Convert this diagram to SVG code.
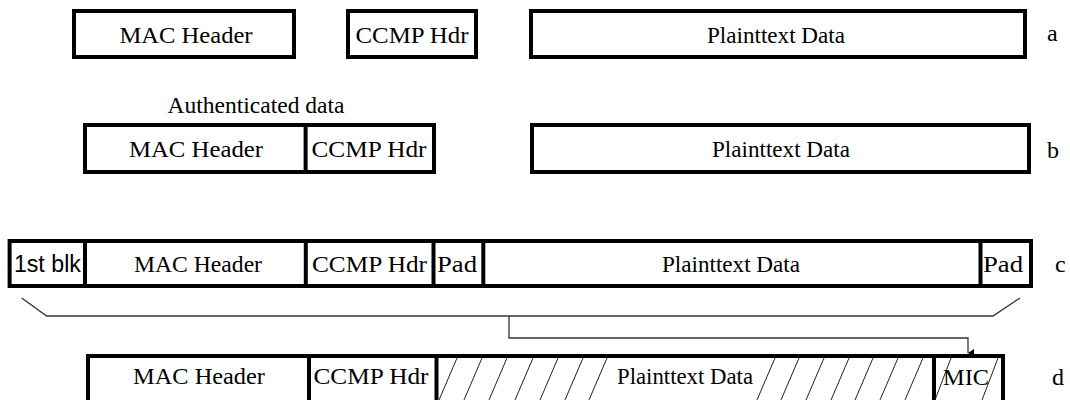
<svg xmlns="http://www.w3.org/2000/svg" width="1070" height="400" viewBox="0 0 1070 400">
<style>
.box{fill:#fff;stroke:#000;stroke-width:4}
.div{stroke:#000;stroke-width:4}
.t{font-family:'Liberation Serif','DejaVu Serif','Noto Serif',serif;font-size:24px;fill:#000;text-anchor:middle}
.s{font-family:'Liberation Sans',Arial,sans-serif;font-size:23px;fill:#000;text-anchor:middle}
.lbl{font-family:'Liberation Serif','DejaVu Serif','Noto Serif',serif;font-size:24px;fill:#000}
.hatch{stroke:#222;stroke-width:1}
.conn{fill:none;stroke:#333;stroke-width:1.3}
</style>
<defs>
<marker id="arr" markerWidth="8" markerHeight="8" refX="4" refY="6" orient="auto" markerUnits="userSpaceOnUse" viewBox="0 0 8 8">
<path d="M0,0 L8,0 L4,6 Z" fill="#000"/>
</marker>
</defs>
<rect width="1070" height="400" fill="#fff"/>

<g id="row-a">
<g id="a-mac"><rect class="box" x="74" y="11" width="220" height="46"/><text class="t" x="186" y="43" textLength="133" lengthAdjust="spacingAndGlyphs">MAC Header</text></g>
<g id="a-ccmp"><rect class="box" x="348" y="11" width="128" height="46"/><text class="t" x="412" y="43" textLength="113" lengthAdjust="spacingAndGlyphs">CCMP Hdr</text></g>
<g id="a-plain"><rect class="box" x="531" y="11" width="494" height="46"/><text class="t" x="776" y="43" textLength="138" lengthAdjust="spacingAndGlyphs">Plainttext Data</text></g>
<text class="lbl" x="1047" y="41">a</text>
</g>

<g id="row-b">
<text class="t" x="256" y="113" textLength="177" lengthAdjust="spacingAndGlyphs">Authenticated data</text>
<g id="b-auth"><rect class="box" x="85" y="125" width="349" height="47"/><line class="div" x1="305.6" y1="125" x2="305.6" y2="172"/>
<text class="t" x="196" y="157" textLength="134" lengthAdjust="spacingAndGlyphs">MAC Header</text><text class="t" x="369" y="157" textLength="115" lengthAdjust="spacingAndGlyphs">CCMP Hdr</text></g>
<g id="b-plain"><rect class="box" x="532" y="125" width="497" height="47"/><text class="t" x="781" y="157" textLength="138" lengthAdjust="spacingAndGlyphs">Plainttext Data</text></g>
<text class="lbl" x="1047" y="158">b</text>
</g>

<g id="row-c">
<rect class="box" x="9.6" y="241" width="1021.4" height="45"/>
<line class="div" x1="85" y1="241" x2="85" y2="286"/>
<line class="div" x1="305.8" y1="241" x2="305.8" y2="286"/>
<line class="div" x1="433.5" y1="241" x2="433.5" y2="286"/>
<line class="div" x1="483.3" y1="241" x2="483.3" y2="286"/>
<line class="div" x1="980.5" y1="241" x2="980.5" y2="286"/>
<text class="s" x="47.4" y="272" textLength="67" lengthAdjust="spacingAndGlyphs">1st blk</text>
<text class="t" x="198" y="272" textLength="128" lengthAdjust="spacingAndGlyphs">MAC Header</text>
<text class="t" x="369.5" y="272" textLength="115" lengthAdjust="spacingAndGlyphs">CCMP Hdr</text>
<text class="t" x="457" y="272" textLength="40" lengthAdjust="spacingAndGlyphs">Pad</text>
<text class="t" x="731" y="272" textLength="138" lengthAdjust="spacingAndGlyphs">Plainttext Data</text>
<text class="t" x="1003" y="272" textLength="40" lengthAdjust="spacingAndGlyphs">Pad</text>
<text class="lbl" x="1055" y="272">c</text>
</g>

<g id="row-d">
<rect class="box" x="88" y="356" width="915" height="48"/>
<line class="div" x1="309" y1="356" x2="309" y2="404"/>
<line class="div" x1="436.5" y1="356" x2="436.5" y2="404"/>
<line class="div" x1="934" y1="356" x2="934" y2="404"/>
<g id="hatch">
<line class="hatch" x1="457" y1="358" x2="439" y2="400"/>
<line class="hatch" x1="482" y1="358" x2="464" y2="400"/>
<line class="hatch" x1="507" y1="358" x2="489" y2="400"/>
<line class="hatch" x1="533" y1="358" x2="515" y2="400"/>
<line class="hatch" x1="558" y1="358" x2="540" y2="400"/>
<line class="hatch" x1="583" y1="358" x2="565" y2="400"/>
<line class="hatch" x1="607" y1="358" x2="589" y2="400"/>
<line class="hatch" x1="775" y1="358" x2="757" y2="400"/>
<line class="hatch" x1="799" y1="358" x2="781" y2="400"/>
<line class="hatch" x1="824" y1="358" x2="806" y2="400"/>
<line class="hatch" x1="849" y1="358" x2="831" y2="400"/>
<line class="hatch" x1="873" y1="358" x2="855" y2="400"/>
<line class="hatch" x1="898" y1="358" x2="880" y2="400"/>
<line class="hatch" x1="923" y1="358" x2="905" y2="400"/>
<line class="hatch" x1="951" y1="358" x2="935" y2="400"/>
<line class="hatch" x1="998" y1="358" x2="982" y2="400"/>
</g>
<text class="t" x="199" y="384" textLength="132" lengthAdjust="spacingAndGlyphs">MAC Header</text>
<text class="t" x="371" y="384" textLength="115" lengthAdjust="spacingAndGlyphs">CCMP Hdr</text>
<text class="t" x="685" y="384" textLength="136" lengthAdjust="spacingAndGlyphs">Plainttext Data</text>
<text class="t" x="966" y="385" textLength="46" lengthAdjust="spacingAndGlyphs">MIC</text>
<text class="lbl" x="1052" y="385">d</text>
</g>

<g id="connectors">
<polyline class="conn" points="21.7,298 46.7,316 993,316 1020,298"/>
<polyline class="conn" points="509,316 509,338 968,338 968,353" marker-end="url(#arr)"/>
</g>
</svg>
